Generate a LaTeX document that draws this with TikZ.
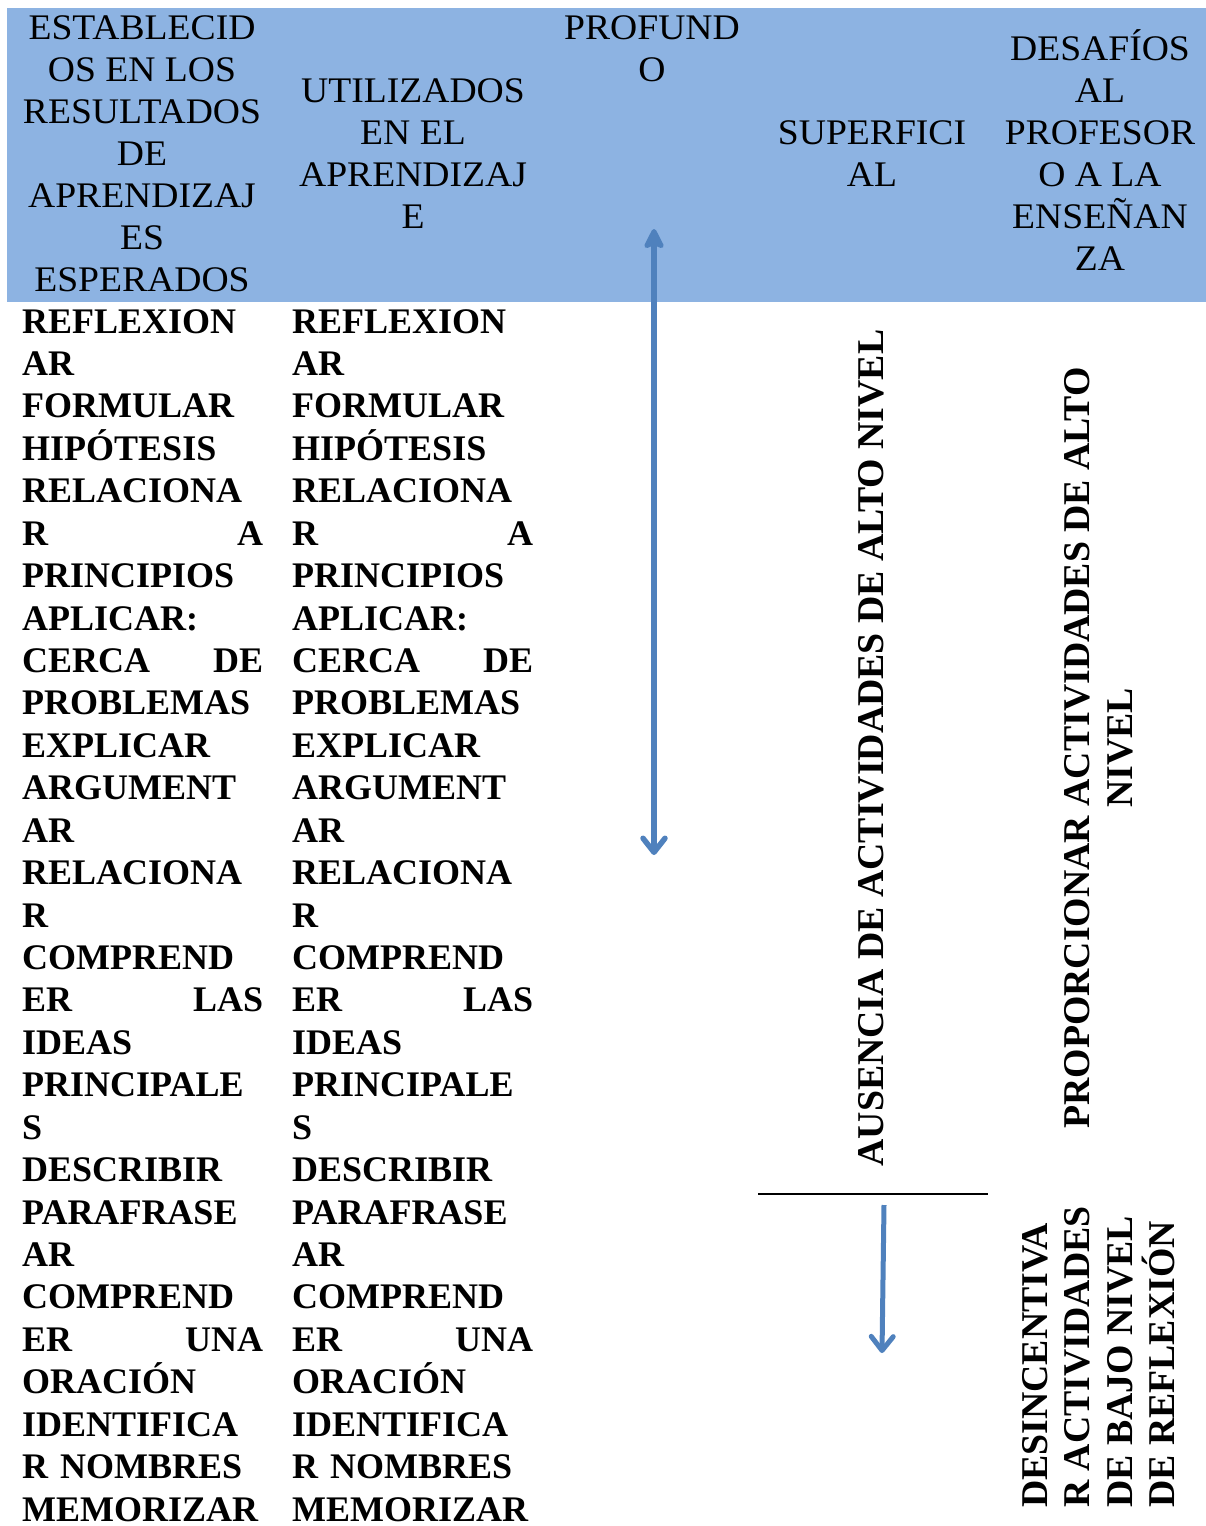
\documentclass[tikz,border=0pt]{standalone}
\usepackage{fontspec}
\setmainfont{Liberation Serif}
\newfontfamily\hdrfont[FakeStretch=1.045]{Liberation Serif}
\usetikzlibrary{arrows.meta}
\definecolor{band}{RGB}{141,179,226}
\definecolor{arrblue}{RGB}{79,129,189}
\setlength{\parindent}{0pt}
\newlength\colw
\setlength\colw{241pt}
\newcommand\jline[2]{\noindent\hbox to \colw{#1\hfill#2}}
\newcommand\bodylist{REFLEXION\\
AR\\
FORMULAR\\
HIPÓTESIS\\
RELACIONA\\
\jline{R}{A}\\
PRINCIPIOS\\
APLICAR:\\
\jline{CERCA}{DE}\\
PROBLEMAS\\
EXPLICAR\\
ARGUMENT\\
AR\\
RELACIONA\\
R\\
COMPREND\\
\jline{ER}{LAS}\\
IDEAS\\
PRINCIPALE\\
S\\
DESCRIBIR\\
PARAFRASE\\
AR\\
COMPREND\\
\jline{ER}{UNA}\\
ORACIÓN\\
IDENTIFICA\\
R NOMBRES\\
MEMORIZAR}
\tikzset{
  hdr/.style={font=\hdrfont\fontsize{36}{42}\selectfont, align=center, inner sep=0pt},
  bodycol/.style={font=\fontsize{36}{42.43}\selectfont\bfseries, text width=241pt, align=left, inner sep=0pt, anchor=north west},
  vert/.style={font=\fontsize{37.8}{42.5}\selectfont\bfseries, rotate=90, inner sep=0pt},
  arr/.style={draw=arrblue, line width=5.5pt},
}
\begin{document}
\begin{tikzpicture}[x=1pt,y=-1pt]
\useasboundingbox (0,0) rectangle (1206,1526);
% header band
\fill[band] (7,8) rectangle (1206,302);
% header texts
\node[hdr] (h1) at (142,154) {ESTABLECID\\OS EN LOS\\RESULTADOS\\DE\\APRENDIZAJ\\ES\\ESPERADOS};
\node[hdr] (h2) at (413,154) {UTILIZADOS\\EN EL\\APRENDIZAJ\\E};
\node[hdr] (h3) at (652,49) {PROFUND\\O};
\node[hdr] (h4) at (872,154) {SUPERFICI\\AL};
\node[hdr] (h5) at (1100,150) {DESAFÍOS\\AL\\PROFESOR\\O A LA\\ENSEÑAN\\ZA};
% body columns
\node[bodycol] (c1) at (22,309) {\bodylist};
\node[bodycol] (c2) at (292,309) {\bodylist};
% rotated texts
\node[vert] (aus) at (871,748) {AUSENCIA DE ACTIVIDADES DE ALTO NIVEL};
\node[vert, align=center] (prop) at (1099,748) {PROPORCIONAR ACTIVIDADES DE ALTO\\NIVEL};
\node[vert, align=left, anchor=north west] (des) at (1022,1508) {DESINCENTIVA\\R ACTIVIDADES\\DE BAJO NIVEL\\DE REFLEXIÓN};
% connectors
\coordinate (dTop) at (654,229);
\coordinate (dBot) at (654,855);
\draw[arr, {Stealth[length=24pt,width=24pt,inset=5pt,round]}-{Straight Barb[length=14pt,width=22pt,round]}] (dTop) -- (dBot);
\coordinate (hL) at (758,1194);
\coordinate (hR) at (988,1194);
\draw[line width=2.5pt] (hL) -- (hR);
\coordinate (sTop) at (884,1205);
\coordinate (sBot) at (882,1353);
\draw[arr, line width=5pt, -{Straight Barb[length=14pt,width=22pt,round]}] (sTop) -- (sBot);
\end{tikzpicture}
\end{document}
